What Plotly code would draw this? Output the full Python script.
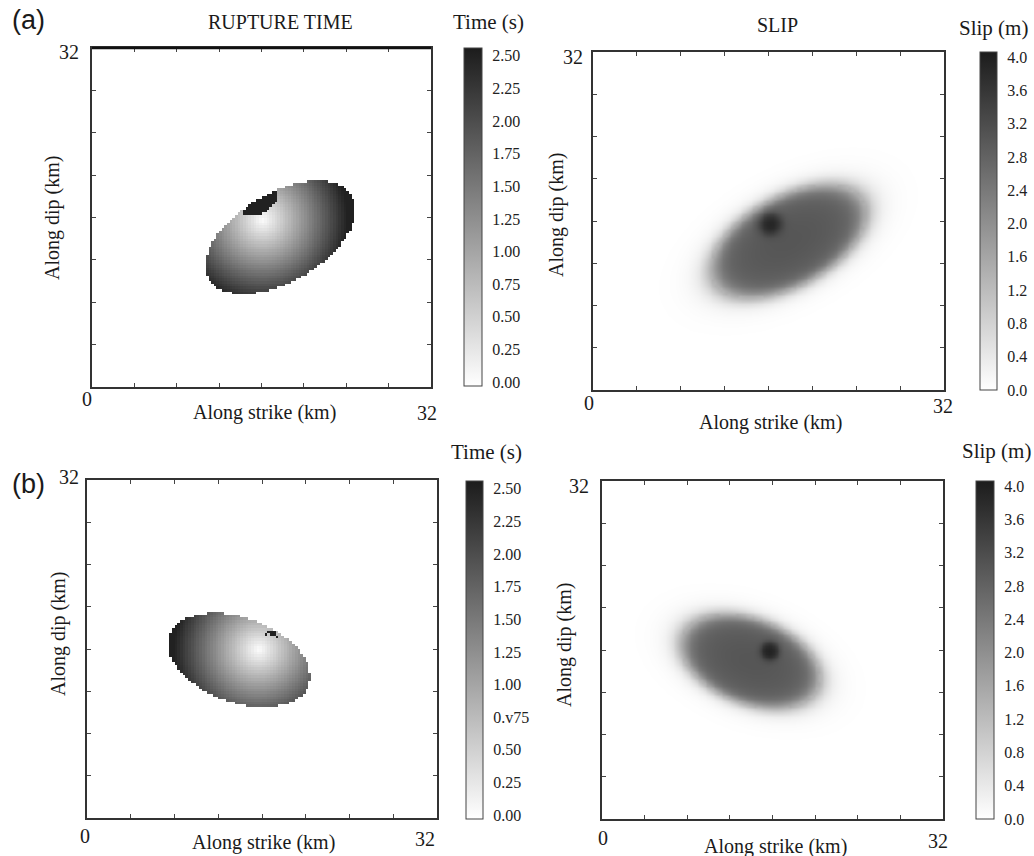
import numpy as np
import plotly.graph_objects as go

W, H = 1034, 856

# ---------------- data ----------------
FAULT_KM = 32.0
GRID_KM = 0.25

# scenario (a): rupture ellipse and hypocentre
A_ELLIPSE_CENTER = [17.8, 14.1]      # km
A_ELLIPSE_AXES = [7.8, 4.2]          # semi-major, semi-minor (km)
A_ELLIPSE_ANGLE = 30.0               # degrees
A_HYPO = [16.1, 15.8]                # km
A_VR = 3.2                           # rupture velocity (km/s)
A_LATE_PATCH = [15.9, 17.4, 1.9, 0.95]   # cx, cy, a, b  (time saturated 2.5 s)
A_SLIP_PLATEAU = 2.7                 # m
A_SLIP_PEAK = 1.0                    # extra slip at hypocentre (m)
A_SPOT = [0.95, 0.25]                # spot radius, edge softness (km)

# scenario (b)
B_ELLIPSE_CENTER = [13.9, 14.95]
B_ELLIPSE_AXES = [6.8, 4.0]
B_ELLIPSE_ANGLE = -21.0
B_HYPO = [15.7, 15.95]
B_VR = 3.1
B_LATE_SPECKS_X = [16.3, 16.7, 17.0, 17.3, 16.9]
B_LATE_SPECKS_Y = [17.4, 17.6, 17.5, 17.2, 17.3]
B_SLIP_PLATEAU = 2.7
B_SLIP_PEAK = 1.0
B_SPOT = [0.8, 0.18]

TIME_TICKS = [0.00, 0.25, 0.50, 0.75, 1.00, 1.25, 1.50, 1.75, 2.00, 2.25, 2.50]
TIME_LABELS_A = ["0.00", "0.25", "0.50", "0.75", "1.00", "1.25", "1.50", "1.75", "2.00", "2.25", "2.50"]
TIME_LABELS_B = ["0.00", "0.25", "0.50", "0.v75", "1.00", "1.25", "1.50", "1.75", "2.00", "2.25", "2.50"]
SLIP_TICKS = [0.0, 0.4, 0.8, 1.2, 1.6, 2.0, 2.4, 2.8, 3.2, 3.6, 4.0]
SLIP_LABELS = ["0.0", "0.4", "0.8", "1.2", "1.6", "2.0", "2.4", "2.8", "3.2", "3.6", "4.0"]
AXIS_TICKS = [0, 4, 8, 12, 16, 20, 24, 28, 32]

# ---------------- fields ----------------
xs = np.arange(GRID_KM / 2, FAULT_KM, GRID_KM)
ys = np.arange(GRID_KM / 2, FAULT_KM, GRID_KM)
X, Y = np.meshgrid(xs, ys)


def ell_r(center, axes, ang):
    t = np.deg2rad(ang)
    dx, dy = X - center[0], Y - center[1]
    u = dx * np.cos(t) + dy * np.sin(t)
    v = -dx * np.sin(t) + dy * np.cos(t)
    return np.sqrt((u / axes[0]) ** 2 + (v / axes[1]) ** 2)


def rupture_time(center, axes, ang, hypo, vr):
    r = ell_r(center, axes, ang)
    d = np.hypot(X - hypo[0], Y - hypo[1])
    t = np.minimum(d / vr, 2.5)
    return np.where(r <= 1.0, t, np.nan), r


def slip_field(center, axes, ang, hypo, plateau, peak, spot_shape):
    r = ell_r(center, axes, ang)
    core = 1.0 / (1.0 + np.exp((r - 1.0) / 0.08))
    shape = (1.0 + 0.12 * (1 - np.clip(r, 0, 1) ** 2))
    halo = 0.05 * np.exp(-((r - 1.0) / 0.4) ** 2) * (r > 1)
    d = np.hypot(X - hypo[0], Y - hypo[1])
    spot = peak / (1.0 + np.exp((d - spot_shape[0]) / spot_shape[1]))
    return plateau * (core * shape + halo) + spot * core


tA, rA = rupture_time(A_ELLIPSE_CENTER, A_ELLIPSE_AXES, A_ELLIPSE_ANGLE, A_HYPO, A_VR)
rp = ell_r(A_LATE_PATCH[:2], A_LATE_PATCH[2:], A_ELLIPSE_ANGLE)
tA = np.where((rp <= 1.0) & (rA <= 1.0), 2.5, tA)

tB, rB = rupture_time(B_ELLIPSE_CENTER, B_ELLIPSE_AXES, B_ELLIPSE_ANGLE, B_HYPO, B_VR)
for sx, sy in zip(B_LATE_SPECKS_X, B_LATE_SPECKS_Y):
    m = (np.abs(X - sx) < GRID_KM * 0.6) & (np.abs(Y - sy) < GRID_KM * 0.6) & (rB <= 1.0)
    tB = np.where(m, 2.5, tB)

sA = slip_field(A_ELLIPSE_CENTER, A_ELLIPSE_AXES, A_ELLIPSE_ANGLE, A_HYPO,
                A_SLIP_PLATEAU, A_SLIP_PEAK, A_SPOT)
sB = slip_field(B_ELLIPSE_CENTER, B_ELLIPSE_AXES, B_ELLIPSE_ANGLE, B_HYPO,
                B_SLIP_PLATEAU, B_SLIP_PEAK, B_SPOT)

# ---------------- layout helpers ----------------
GRAY = [[0.0, "#ffffff"], [1.0, "#1c1c1c"]]
SERIF = "Liberation Serif, Times New Roman, DejaVu Serif, serif"
SANS = "Liberation Sans, Arial, sans-serif"

# panel boxes in pixels: (left, top, right, bottom)
PANELS = {
    1: (92, 48, 431, 387),
    2: (593, 52, 944, 390),
    3: (87, 480, 437, 818),
    4: (602, 481, 943, 819),
}
CBARS = {
    1: (464, 48, 482, 386),
    2: (980, 52, 997, 390),
    3: (466, 481, 483, 819),
    4: (976, 481, 994, 819),
}


def px_x(p):
    return p / W


def px_y(p):
    return 1 - p / H


def cbar(i, ticks, labels):
    l, t, r, b = CBARS[i]
    return dict(
        x=px_x(l), xanchor="left", xpad=0,
        y=px_y(t), yanchor="top", ypad=0,
        len=(b - t) / H, lenmode="fraction",
        thickness=r - l, thicknessmode="pixels",
        outlinewidth=1, outlinecolor="#444",
        tickvals=ticks, ticktext=labels,
        ticks="outside", ticklen=7, tickcolor="rgba(0,0,0,0)",
        tickfont=dict(family=SERIF, size=16, color="#222"),
    )


fig = go.Figure()

fields = [
    (1, tA, TIME_TICKS, TIME_LABELS_A, -0.03, 2.56, False),
    (2, sA, SLIP_TICKS, SLIP_LABELS, 0.0, 4.06, "best"),
    (3, tB, TIME_TICKS, TIME_LABELS_B, -0.03, 2.56, False),
    (4, sB, SLIP_TICKS, SLIP_LABELS, 0.0, 4.06, "best"),
]
for i, z, tv, tt, zmin, zmax, smooth in fields:
    suffix = "" if i == 1 else str(i)
    fig.add_trace(go.Heatmap(
        x=xs, y=ys, z=z, zmin=zmin, zmax=zmax, colorscale=GRAY,
        zsmooth=smooth, hoverongaps=False,
        colorbar=cbar(i, tv, tt),
        xaxis="x" + suffix, yaxis="y" + suffix,
    ))

layout = dict(
    width=W, height=H, margin=dict(l=0, r=0, t=0, b=0),
    paper_bgcolor="white", plot_bgcolor="white", showlegend=False,
    font=dict(family=SERIF),
)
for i, (l, t, r, b) in PANELS.items():
    suffix = "" if i == 1 else str(i)
    common = dict(
        range=[0, FAULT_KM], tickvals=AXIS_TICKS, showticklabels=False,
        ticks="inside", ticklen=4, tickcolor="#444", tickwidth=1,
        showline=True, linecolor="#333", linewidth=1.5, mirror="ticks",
        showgrid=False, zeroline=False,
    )
    layout["xaxis" + suffix] = dict(common, domain=[px_x(l), px_x(r)], anchor="y" + suffix)
    layout["yaxis" + suffix] = dict(common, domain=[px_y(b), px_y(t)], anchor="x" + suffix)
fig.update_layout(**layout)

# thicker top frame line on the first panel, as in the original
fig.add_shape(type="line", xref="x domain", yref="y domain", x0=0, x1=1, y0=1, y1=1,
              line=dict(color="#111", width=2.5))

# ---------------- text ----------------
def txt(x, y, s, size=20, family=SERIF, angle=0, xanchor="center"):
    fig.add_annotation(
        x=px_x(x), y=px_y(y), xref="paper", yref="paper", text=s, showarrow=False,
        xanchor=xanchor, yanchor="middle", textangle=angle,
        font=dict(family=family, size=size, color="#1a1a1a"),
    )


txt(28, 20, "(a)", size=27, family=SANS)
txt(28, 484, "(b)", size=27, family=SANS)
txt(280, 22, "RUPTURE TIME", size=20)
txt(488, 22, "Time (s)", size=21)
txt(777, 25, "SLIP", size=20)
txt(993, 28, "Slip (m)", size=21)
txt(486, 452, "Time (s)", size=21)
txt(996, 451, "Slip (m)", size=21)

AXIS_LABELS = [
    # (zero_x, zero_y, top32_right, top32_y, br32_x, br32_y, xt_x, xt_y, yt_x, yt_y)
    (87, 399, 81, 52, 427, 413, 264, 413, 52, 218),
    (589, 403, 585, 57, 943, 406, 770, 422, 557, 215),
    (85, 836, 81, 477, 425, 839, 263, 842, 58, 634),
    (603, 838, 591, 486, 938, 841, 775, 846, 564, 645),
]
for zx, zy, tx, ty, bx, by, xtx, xty, ytx, yty in AXIS_LABELS:
    txt(zx, zy, "0")
    txt(tx, ty, "32", xanchor="right")
    txt(bx, by, "32")
    txt(xtx, xty, "Along strike (km)")
    txt(ytx, yty, "Along dip (km)", angle=-90)

fig.write_html("out.html")
